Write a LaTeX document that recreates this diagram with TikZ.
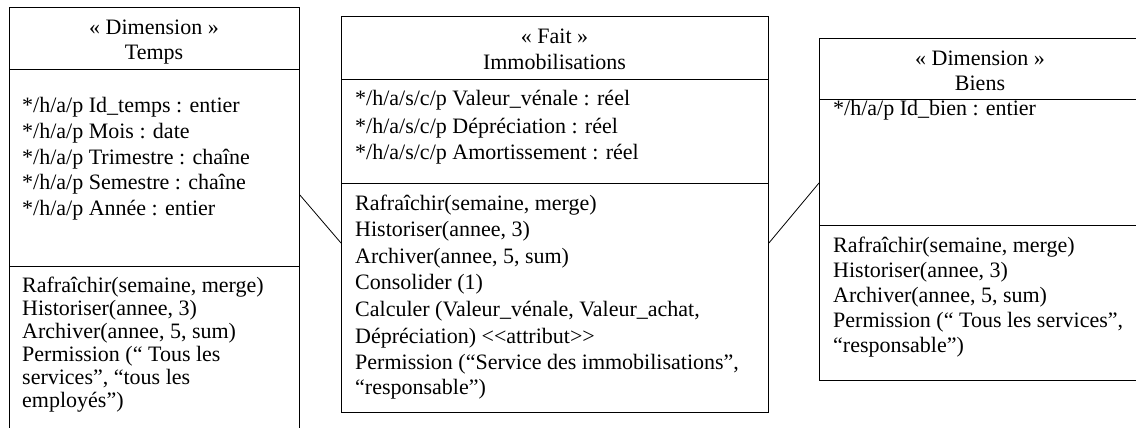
\documentclass[tikz,border=0pt]{standalone}
\usepackage{fontspec}
\setmainfont{Liberation Serif}
\newcommand{\uf}{\fontsize{22}{26}\selectfont}
\begin{document}
\begin{tikzpicture}[x=1pt,y=-1pt,
  box/.style={draw=black, line width=0.9pt, inner sep=0, anchor=north west},
  divider/.style={draw=black, line width=0.9pt},
  ln/.style={anchor=base west, inner sep=0, font=\uf},
  hd/.style={anchor=base, inner sep=0, font=\uf},
  conn/.style={draw=black, line width=0.8pt}]
\useasboundingbox (0,0) rectangle (1136,428);
\fill[white] (0,0) rectangle (1136,428);

% Temps
\node[box, minimum width=290pt, minimum height=430pt] (temps) at (9,7) {};
\draw[divider] (9,69) -- (299,69);
\draw[divider] (9,266) -- (299,266);
\node[hd] (th1) at (154,35) {« Dimension »};
\node[hd] (th2) at (154,60) {Temps};
\node[ln] (ta1) at (22,112) {*/h/a/p Id\_temps : entier};
\node[ln] (ta2) at (22,138) {*/h/a/p Mois : date};
\node[ln] (ta3) at (22,164) {*/h/a/p Trimestre : chaîne};
\node[ln] (ta4) at (22,189) {*/h/a/p Semestre : chaîne};
\node[ln] (ta5) at (22,215) {*/h/a/p Année : entier};
\node[ln] (tm1) at (22,292) {Rafraîchir(semaine, merge)};
\node[ln] (tm2) at (22,315) {Historiser(annee, 3)};
\node[ln] (tm3) at (22,338) {Archiver(annee, 5, sum)};
\node[ln] (tm4) at (22,361) {Permission (“ Tous les};
\node[ln] (tm5) at (22,384) {services”, “tous les};
\node[ln] (tm6) at (22,407) {employés”)};

% Fait
\node[box, minimum width=427pt, minimum height=396pt] (fait) at (341,16) {};
\draw[divider] (341,79) -- (768,79);
\draw[divider] (341,183) -- (768,183);
\node[hd] (fh1) at (554.5,44) {« Fait »};
\node[hd] (fh2) at (554.5,70) {Immobilisations};
\node[ln] (fa1) at (355,106) {*/h/a/s/c/p Valeur\_vénale : réel};
\node[ln] (fa2) at (355,133) {*/h/a/s/c/p Dépréciation : réel};
\node[ln] (fa3) at (355,159) {*/h/a/s/c/p Amortissement : réel};
\node[ln] (fm1) at (355,210) {Rafraîchir(semaine, merge)};
\node[ln] (fm2) at (355,236) {Historiser(annee, 3)};
\node[ln] (fm3) at (355,263) {Archiver(annee, 5, sum)};
\node[ln] (fm4) at (355,289) {Consolider (1)};
\node[ln] (fm5) at (355,316) {Calculer (Valeur\_vénale, Valeur\_achat,};
\node[ln] (fm6) at (355,343) {Dépréciation) \textless\kern0pt\textless\kern0pt attribut\textgreater\kern0pt\textgreater};
\node[ln] (fm7) at (355,369) {Permission (“Service des immobilisations”,};
\node[ln] (fm8) at (355,394) {“responsable”)};

% Biens
\node[box, minimum width=322pt, minimum height=342pt] (biens) at (819,38) {};
\draw[divider] (819,99) -- (1141,99);
\draw[divider] (819,225) -- (1141,225);
\node[hd] (bh1) at (980,66) {« Dimension »};
\node[hd] (bh2) at (980,91) {Biens};
\node[ln] (ba1) at (833,116) {*/h/a/p Id\_bien : entier};
\node[ln] (bm1) at (833,252) {Rafraîchir(semaine, merge)};
\node[ln] (bm2) at (833,277) {Historiser(annee, 3)};
\node[ln] (bm3) at (833,302) {Archiver(annee, 5, sum)};
\node[ln] (bm4) at (833,327) {Permission (“ Tous les services”,};
\node[ln] (bm5) at (833,352) {“responsable”)};

% connectors
\draw[conn] ([yshift=-188pt]temps.north east) -- ([yshift=-227pt]fait.north west);
\draw[conn] ([yshift=-227pt]fait.north east) -- ([yshift=-145pt]biens.north west);
\end{tikzpicture}
\end{document}
